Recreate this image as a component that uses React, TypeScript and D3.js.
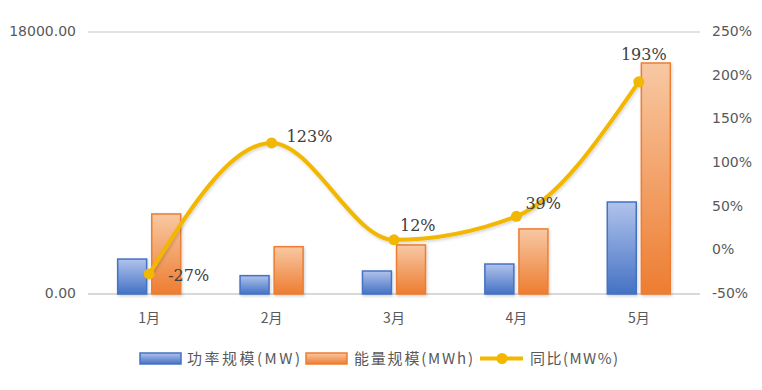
import React from 'react';
import * as d3 from 'd3';

// data
const months = ['1月', '2月', '3月', '4月', '5月'];
const powerMW = [2400, 1260, 1580, 2060, 6320];
const energyMWh = [5500, 3250, 3370, 4470, 15870];
const yoyPct = [-27, 123, 12, 39, 193];
const leftTicks = [0, 18000];
const rightTicks = [-50, 0, 50, 100, 150, 200, 250];
const legendNames = ['功率规模(MW)', '能量规模(MWh)', '同比(MW%)'];

const W = 762;
const H = 390;
const margin = {top: 32, right: 62, bottom: 96, left: 88};

const BLUE = '#4472C4';
const ORANGE = '#ED7D31';
const GOLD = '#F2B700';
const AXIS_TEXT = '#595959';

// label offsets relative to each point (excel-ish "right" placement)
const labelOffset = [
  [19, 7, 'start'],
  [15, -1, 'start'],
  [6, -9, 'start'],
  [9, -7, 'start'],
  [5, -22, 'middle'],
];

export default function App() {
  const x = d3
    .scaleBand()
    .domain(months)
    .range([margin.left, W - margin.right])
    .paddingInner(0.485)
    .paddingOuter(0.2425);

  const x1 = d3
    .scaleBand()
    .domain(['p', 'e'])
    .range([0, x.bandwidth()])
    .paddingInner(0.15);

  const yL = d3.scaleLinear().domain([0, 18000]).range([H - margin.bottom, margin.top]);
  const yR = d3.scaleLinear().domain([-50, 250]).range([H - margin.bottom, margin.top]);

  const cx = (m) => x(m) + x.bandwidth() / 2;

  const line = d3
    .line()
    .x((d, i) => cx(months[i]))
    .y((d) => yR(d))
    .curve(d3.curveMonotoneX);

  const font = '"DejaVu Sans", sans-serif';
  const cjk = '"Noto Sans CJK SC", "DejaVu Sans", sans-serif';

  const bars = (vals, key, grad, stroke) =>
    vals.map((v, i) => (
      <rect
        key={key + i}
        x={x(months[i]) + x1(key)}
        y={yL(v)}
        width={x1.bandwidth()}
        height={yL(0) - yL(v)}
        fill={`url(#${grad})`}
        stroke={stroke}
        strokeWidth={1.5}
        filter="url(#shadow)"
      />
    ));

  return (
    <svg
      width={W}
      height={H}
      style={{position: 'absolute', left: 0, top: 0, background: '#fff'}}
    >
      <defs>
        <linearGradient id="gBlue" x1="0" y1="0" x2="0" y2="1">
          <stop offset="0%" stopColor="#B1C3EC" />
          <stop offset="100%" stopColor="#4472C4" />
        </linearGradient>
        <linearGradient id="gOrange" x1="0" y1="0" x2="0" y2="1">
          <stop offset="0%" stopColor="#F8C8A3" />
          <stop offset="100%" stopColor="#ED7D31" />
        </linearGradient>
        <filter id="shadow" x="-20%" y="-20%" width="140%" height="140%">
          <feDropShadow dx="1" dy="1.5" stdDeviation="1.5" floodColor="#000" floodOpacity="0.18" />
        </filter>
      </defs>

      {/* gridlines at the left ticks only */}
      {leftTicks.map((t) => (
        <line
          key={'g' + t}
          x1={margin.left}
          x2={W - margin.right}
          y1={yL(t)}
          y2={yL(t)}
          stroke="#D9D9D9"
          strokeWidth={t === 0 ? 2 : 1.5}
        />
      ))}

      {leftTicks.map((t) => (
        <text
          key={'l' + t}
          x={76}
          y={yL(t)}
          textAnchor="end"
          dominantBaseline="middle"
          fontFamily={font}
          fontSize={14}
          fill={AXIS_TEXT}
        >
          {d3.format('.2f')(t)}
        </text>
      ))}

      {rightTicks.map((t) => (
        <text
          key={'r' + t}
          x={712}
          y={yR(t)}
          dominantBaseline="middle"
          fontFamily={font}
          fontSize={14}
          fill={AXIS_TEXT}
        >
          {t + '%'}
        </text>
      ))}

      {months.map((m) => (
        <text
          key={'x' + m}
          x={cx(m)}
          y={323}
          textAnchor="middle"
          fontFamily={cjk}
          fontSize={14}
          fill={AXIS_TEXT}
        >
          {m}
        </text>
      ))}

      {bars(powerMW, 'p', 'gBlue', BLUE)}
      {bars(energyMWh, 'e', 'gOrange', ORANGE)}

      <path
        d={line(yoyPct)}
        fill="none"
        stroke={GOLD}
        strokeWidth={4}
        strokeLinecap="round"
        filter="url(#shadow)"
      />
      {yoyPct.map((v, i) => (
        <circle key={'c' + i} cx={cx(months[i])} cy={yR(v)} r={5.5} fill={GOLD} />
      ))}
      {yoyPct.map((v, i) => (
        <text
          key={'t' + i}
          x={cx(months[i]) + labelOffset[i][0]}
          y={yR(v) + labelOffset[i][1]}
          textAnchor={labelOffset[i][2]}
          fontFamily='"DejaVu Serif", serif'
          fontSize={16}
          fill="#404040"
        >
          {v + '%'}
        </text>
      ))}

      {/* legend */}
      <g fontFamily={cjk} fontSize={15} fill={AXIS_TEXT}>
        <rect x={140} y={353} width={41} height={11} fill="url(#gBlue)" stroke={BLUE} strokeWidth={1.5} />
        <text x={187} y={364} textLength={113} lengthAdjust="spacing">
          {legendNames[0]}
        </text>
        <rect x={306} y={353} width={41} height={11} fill="url(#gOrange)" stroke={ORANGE} strokeWidth={1.5} />
        <text x={354} y={364} textLength={119} lengthAdjust="spacing">
          {legendNames[1]}
        </text>
        <line x1={480} x2={523} y1={358.5} y2={358.5} stroke={GOLD} strokeWidth={4} />
        <circle cx={502} cy={358.5} r={5.5} fill={GOLD} />
        <text x={530} y={364} textLength={88} lengthAdjust="spacing">
          {legendNames[2]}
        </text>
      </g>
    </svg>
  );
}
